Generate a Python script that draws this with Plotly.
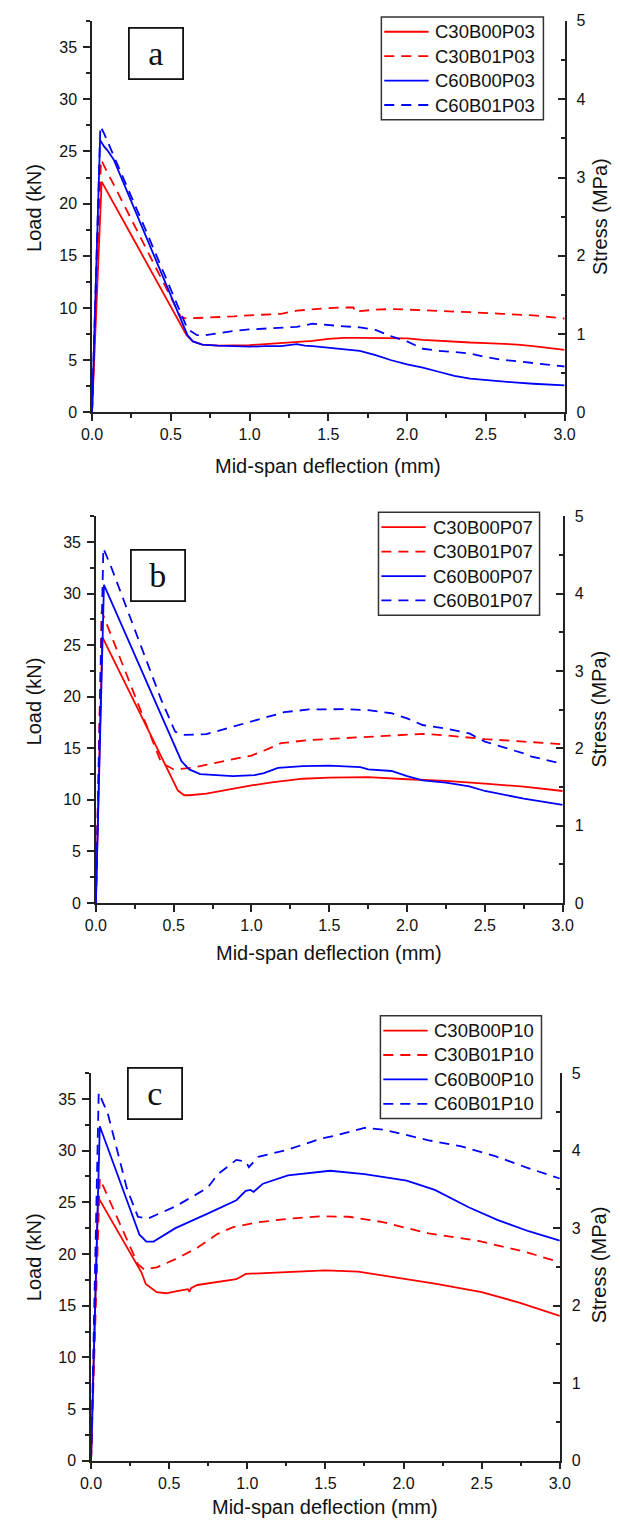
import plotly.graph_objects as go

W, H = 620, 1535

# ---------------- data (Load in kN vs mid-span deflection in mm) ----------------
# Panel a
a_names = ["C30B00P03", "C30B01P03", "C60B00P03", "C60B01P03"]
a1_x = [0, 0.061, 0.3, 0.5, 0.6, 0.64, 0.7, 0.8, 0.9, 1.0, 1.1, 1.2, 1.3, 1.4, 1.5, 1.6, 1.7, 1.8,
        1.9, 2.0, 2.1, 2.2, 2.3, 2.4, 2.5, 2.6, 2.7, 2.8, 2.9, 3.0]
a1_y = [0, 22.1, 15.6, 10.1, 7.4, 6.8, 6.5, 6.4, 6.4, 6.45, 6.55, 6.65, 6.7, 6.85, 7.05, 7.15, 7.15,
        7.15, 7.15, 7.1, 6.95, 6.85, 6.8, 6.7, 6.65, 6.6, 6.5, 6.35, 6.15, 6.0]
a2_x = [0, 0.057, 0.3, 0.565, 0.6, 0.7, 0.8, 0.9, 1.0, 1.1, 1.2, 1.3, 1.4, 1.5, 1.6, 1.66, 1.67, 1.7,
        1.8, 1.9, 2.0, 2.2, 2.4, 2.6, 2.8, 3.0]
a2_y = [0, 24.2, 17.0, 9.1, 9.0, 9.05, 9.1, 9.2, 9.3, 9.35, 9.45, 9.75, 9.9, 10.0, 10.05, 10.05, 9.6,
        9.7, 9.85, 9.9, 9.85, 9.75, 9.6, 9.45, 9.3, 9.0]
a3_x = [0, 0.051, 0.075, 0.098, 0.138, 0.3, 0.45, 0.606, 0.64, 0.7, 0.8, 0.9, 1.0, 1.1, 1.2, 1.3,
        1.35, 1.4, 1.5, 1.6, 1.7, 1.8, 1.9, 2.0, 2.1, 2.2, 2.3, 2.4, 2.5, 2.6, 2.7, 2.8, 2.9, 3.0]
a3_y = [0, 26.1, 25.5, 25.1, 24.2, 18.4, 13.0, 7.4, 6.8, 6.5, 6.4, 6.35, 6.3, 6.35, 6.35, 6.55,
        6.4, 6.35, 6.2, 6.1, 5.9, 5.5, 5.0, 4.6, 4.3, 3.9, 3.5, 3.25, 3.1, 3.0, 2.85, 2.75, 2.7, 2.6]
a4_x = [0, 0.053, 0.077, 0.32, 0.606, 0.667, 0.72, 0.8, 0.9, 1.0, 1.1, 1.2, 1.3, 1.4, 1.5, 1.6,
        1.7, 1.8, 1.9, 2.0, 2.1, 2.2, 2.3, 2.4, 2.5, 2.6, 2.7, 2.8, 2.9, 3.0]
a4_y = [0, 27.4, 26.7, 18.2, 8.0, 7.4, 7.4, 7.6, 7.8, 7.95, 8.05, 8.1, 8.2, 8.5, 8.35, 8.25,
        8.15, 7.9, 7.3, 6.8, 6.1, 5.9, 5.8, 5.65, 5.3, 5.05, 4.9, 4.75, 4.6, 4.4]

# Panel b
b_names = ["C30B00P07", "C30B01P07", "C60B00P07", "C60B01P07"]
b1_x = [0, 0.041, 0.3, 0.527, 0.568, 0.6, 0.71, 0.82, 0.9, 1.0, 1.13, 1.33, 1.5, 1.75, 2.0, 2.25,
        2.5, 2.75, 3.0]
b1_y = [0, 25.8, 17.9, 10.9, 10.45, 10.45, 10.6, 10.9, 11.15, 11.4, 11.7, 12.05, 12.15, 12.2, 12.0,
        11.85, 11.57, 11.28, 10.86]
b2_x = [0, 0.037, 0.42, 0.5, 0.61, 0.82, 1.0, 1.1, 1.19, 1.37, 1.5, 1.75, 2.0, 2.1, 2.25, 2.5,
        2.75, 3.0]
b2_y = [0, 28.3, 13.6, 12.95, 13.1, 13.75, 14.3, 14.9, 15.5, 15.8, 15.9, 16.1, 16.35, 16.4, 16.25,
        15.9, 15.65, 15.4]
b3_x = [0, 0.052, 0.55, 0.6, 0.67, 0.88, 1.02, 1.08, 1.17, 1.33, 1.5, 1.7, 1.75, 1.9, 2.0, 2.1,
        2.25, 2.4, 2.5, 2.75, 3.0]
b3_y = [0, 30.85, 13.75, 12.95, 12.5, 12.3, 12.4, 12.6, 13.1, 13.27, 13.33, 13.17, 12.95, 12.8,
        12.3, 11.9, 11.67, 11.3, 10.86, 10.13, 9.52]
b4_x = [0, 0.048, 0.093, 0.42, 0.51, 0.57, 0.71, 0.88, 1.02, 1.21, 1.37, 1.5, 1.6, 1.75, 1.9,
        2.0, 2.1, 2.25, 2.4, 2.5, 2.6, 2.75, 2.8, 3.0]
b4_y = [0, 34.4, 32.8, 19.7, 16.6, 16.3, 16.37, 17.1, 17.7, 18.5, 18.77, 18.76, 18.8, 18.7, 18.4,
        17.9, 17.26, 16.9, 16.45, 15.65, 15.2, 14.5, 14.2, 13.5]

# Panel c
c_names = ["C30B00P10", "C30B01P10", "C60B00P10", "C60B01P10"]
c1_x = [0, 0.045, 0.323, 0.35, 0.42, 0.48, 0.55, 0.62, 0.63, 0.64, 0.68, 0.8, 0.93, 0.99, 1.16,
        1.3, 1.5, 1.71, 1.96, 2.21, 2.5, 2.74, 3.0]
c1_y = [0, 25.5, 18.2, 17.1, 16.3, 16.2, 16.4, 16.6, 16.35, 16.7, 17.0, 17.3, 17.56, 18.07, 18.2,
        18.3, 18.42, 18.3, 17.7, 17.1, 16.3, 15.3, 14.0]
c2_x = [0, 0.056, 0.30, 0.34, 0.42, 0.54, 0.68, 0.81, 0.91, 1.07, 1.26, 1.47, 1.65, 1.86, 2.16,
        2.47, 2.78, 3.0]
c2_y = [0, 27.3, 19.0, 18.5, 18.7, 19.5, 20.6, 21.95, 22.6, 23.07, 23.4, 23.65, 23.6, 23.1, 22.0,
        21.3, 20.2, 19.2]
c3_x = [0, 0.056, 0.31, 0.354, 0.4, 0.54, 0.746, 0.93, 0.99, 1.02, 1.04, 1.1, 1.26, 1.47, 1.53,
        1.75, 2.02, 2.2, 2.42, 2.6, 2.8, 3.0]
c3_y = [0, 32.36, 21.86, 21.2, 21.2, 22.5, 23.9, 25.2, 26.1, 26.2, 26.0, 26.8, 27.6, 28.0, 28.05,
        27.73, 27.1, 26.2, 24.5, 23.3, 22.2, 21.3]
c4_x = [0, 0.049, 0.107, 0.23, 0.30, 0.36, 0.54, 0.746, 0.81, 0.93, 0.99, 1.01, 1.07, 1.26, 1.47,
        1.55, 1.75, 1.88, 2.16, 2.37, 2.58, 2.78, 3.0]
c4_y = [0, 35.6, 33.6, 26.3, 23.6, 23.4, 24.6, 26.4, 27.7, 29.1, 28.95, 28.4, 29.4, 30.1, 31.15,
        31.4, 32.2, 32.0, 31.0, 30.4, 29.5, 28.4, 27.3]

panel_labels = ["a", "b", "c"]
load_ticks = [0, 5, 10, 15, 20, 25, 30, 35]
stress_ticks = [0, 1, 2, 3, 4, 5]
x_ticks = [0.0, 0.5, 1.0, 1.5, 2.0, 2.5, 3.0]
x_title = "Mid-span deflection (mm)"
y_title = "Load (kN)"
y2_title = "Stress (MPa)"

# ---------------- layout geometry (pixels) ----------------
panels = [
    dict(names=a_names, xs=[a1_x, a2_x, a3_x, a4_x], ys=[a1_y, a2_y, a3_y, a4_y],
         x0=84, x1=574, top=13, bot=409, leg=(384, 9, 552, 113), box=(150.5, 46),
         ylab=202, y2lab=211, xlab=463),
    dict(names=b_names, xs=[b1_x, b2_x, b3_x, b4_x], ys=[b1_y, b2_y, b3_y, b4_y],
         x0=88, x1=572, top=514, bot=905, leg=(381, 510, 548, 614), box=(152.5, 574),
         ylab=701, y2lab=709, xlab=956),
    dict(names=c_names, xs=[c1_x, c2_x, c3_x, c4_x], ys=[c1_y, c2_y, c3_y, c4_y],
         x0=83, x1=569, top=1077, bot=1469, leg=(383, 1019, 550, 1123), box=(149.5, 1097.5),
         ylab=1263, y2lab=1271, xlab=1516),
]

colors = ["#FF0000", "#FF0000", "#0000FF", "#0000FF"]
dashes = ["solid", "10px,7px", "solid", "10px,7px"]
FONT = "Liberation Sans, Arial, sans-serif"
AX = "#222222"

fig = go.Figure()
layout = dict(
    width=W, height=H, margin=dict(l=0, r=0, t=0, b=0),
    paper_bgcolor="white", plot_bgcolor="rgba(0,0,0,0)",
    font=dict(family=FONT, size=16, color="#111"),
    annotations=[], shapes=[], showlegend=False,
)


def px(xp):
    return xp / W


def py(yp):
    return 1 - yp / H


for i, p in enumerate(panels):
    k = i + 1
    xa = "x" if k == 1 else f"x{k}"
    ya = "y" if k == 1 else f"y{k}"
    ys_name = f"y{k + 3}"
    for j in range(4):
        fig.add_trace(go.Scatter(
            x=p["xs"][j], y=p["ys"][j], mode="lines", name=p["names"][j],
            line=dict(color=colors[j], width=1.8, dash=dashes[j]),
            xaxis=xa, yaxis=ya,
        ))
    # empty trace to bind the stress axis
    fig.add_trace(go.Scatter(x=[], y=[], xaxis=xa, yaxis=ys_name, showlegend=False))

    xkey = "xaxis" if k == 1 else f"xaxis{k}"
    ykey = "yaxis" if k == 1 else f"yaxis{k}"
    skey = f"yaxis{k + 3}"
    common = dict(showline=True, linecolor=AX, linewidth=1.5, showgrid=False, zeroline=False,
                  ticks="outside", ticklen=7, tickwidth=1.5, tickcolor=AX,
                  tickfont=dict(family=FONT, size=16, color="#111"))
    layout[xkey] = dict(common, domain=[px(p["x0"]), px(p["x1"])], anchor=ya,
                        range=[0, 3], tickvals=x_ticks, tickformat=".1f",
                        minor=dict(dtick=0.25, ticklen=4, tickwidth=1.5, tickcolor=AX,
                                   ticks="outside"))
    layout[ykey] = dict(common, domain=[py(p["bot"]), py(p["top"])], anchor=xa,
                        range=[0, 37.5], tickvals=load_ticks, ticklabelstandoff=3,
                        minor=dict(dtick=2.5, ticklen=4, tickwidth=1.5, tickcolor=AX,
                                   ticks="outside"))
    layout[skey] = dict(common, overlaying=ya, anchor=xa, side="right",
                        range=[0, 5], tickvals=stress_ticks, ticks="inside",
                        ticklabelstandoff=7,
                        minor=dict(dtick=0.5, ticklen=4, tickwidth=1.5, tickcolor=AX,
                                   ticks="inside"))

    # legend box (drawn as shapes + text, sized like the reference)
    lx0, ly0, lx1, ly1 = p["leg"]
    layout["shapes"].append(dict(type="rect", xref="paper", yref="paper",
                                 x0=px(lx0), x1=px(lx1), y0=py(ly1), y1=py(ly0),
                                 line=dict(color="#333", width=1.5), fillcolor="white",
                                 layer="above"))
    for j in range(4):
        ey = ly0 + 15 + j * 24.7
        layout["shapes"].append(dict(type="line", xref="paper", yref="paper",
                                     x0=px(lx0 + 3), x1=px(lx0 + 49), y0=py(ey), y1=py(ey),
                                     line=dict(color=colors[j], width=1.8, dash=dashes[j]),
                                     layer="above"))
        layout["annotations"].append(dict(
            text=p["names"][j], x=px(lx0 + 54), y=py(ey), xref="paper", yref="paper",
            xanchor="left", yanchor="middle", showarrow=False,
            font=dict(family=FONT, size=18.5, color="#111")))

    ann = layout["annotations"]
    ann.append(dict(text=panel_labels[i], x=px(p["box"][0]), y=py(p["box"][1]),
                    xref="paper", yref="paper", xanchor="center", yanchor="middle",
                    showarrow=False, width=52, height=49, borderpad=0,
                    bordercolor="#111", borderwidth=1.8, bgcolor="white",
                    font=dict(family="Liberation Serif, Times New Roman, serif", size=34,
                              color="#111")))
    ann.append(dict(text=y_title, x=px(24), y=py(p["ylab"]), xref="paper", yref="paper",
                    xanchor="center", yanchor="middle", textangle=-90, showarrow=False,
                    font=dict(family=FONT, size=20, color="#111")))
    ann.append(dict(text=y2_title, x=px(610), y=py(p["y2lab"]), xref="paper", yref="paper",
                    xanchor="center", yanchor="middle", textangle=-90, showarrow=False,
                    font=dict(family=FONT, size=20, color="#111")))
    ann.append(dict(text=x_title, x=px((p["x0"] + p["x1"]) / 2), y=py(p["xlab"]),
                    xref="paper", yref="paper", xanchor="center", yanchor="middle",
                    showarrow=False, font=dict(family=FONT, size=20, color="#111")))

fig.update_layout(**layout)
fig.write_html("out.html")
